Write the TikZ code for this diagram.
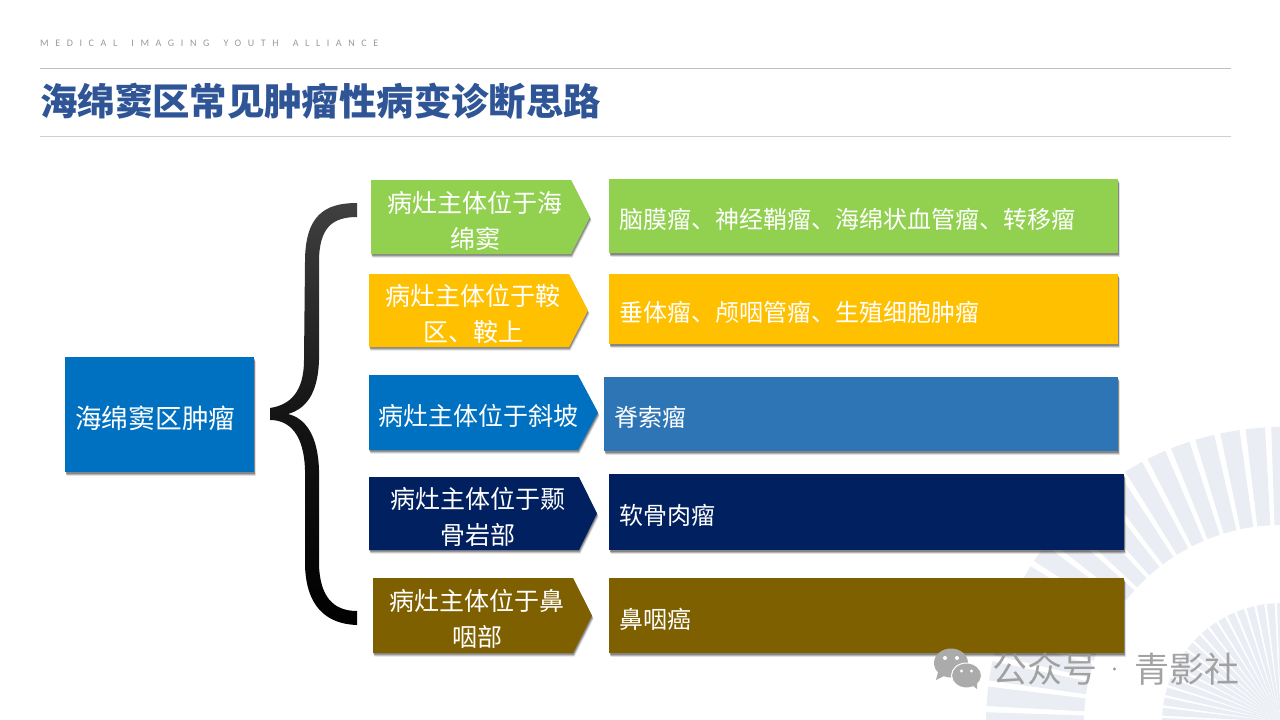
\documentclass[tikz,border=0pt]{standalone}
\usepackage{fontspec}
\setmainfont{Noto Sans CJK SC}
\newfontfamily\headfont[LetterSpace=66,WordSpace=1.6]{Carlito}
\usetikzlibrary{shadows}
\definecolor{fanblue}{HTML}{EAEDF3}
\definecolor{ruleline}{HTML}{BFBFBF}
\definecolor{titleblue}{HTML}{2F5597}
\definecolor{leafgreen}{HTML}{92D050}
\definecolor{amber}{HTML}{FFC000}
\definecolor{seablue}{HTML}{0070C0}
\definecolor{midblue}{HTML}{2E75B6}
\definecolor{navy}{HTML}{002060}
\definecolor{olivebrown}{HTML}{7F6000}
\definecolor{wmgray}{HTML}{ABABAB}
\tikzset{
	boxshadow/.style={
		general shadow={shadow xshift=1.5pt, shadow yshift=-3.5pt, fill=black, opacity=0.12},
		general shadow={shadow xshift=1pt, shadow yshift=-2.5pt, fill=black, opacity=0.2},
		general shadow={shadow xshift=0.5pt, shadow yshift=-1.5pt, fill=black, opacity=0.25}},
	plainbox/.style={rectangle, boxshadow, inner xsep=10pt, inner ysep=0pt, text=white, align=left, text height=28pt, text depth=3pt, font=\fontsize{24}{30}\selectfont},
	tagtext/.style={text=white, align=center, inner sep=0pt, font=\fontsize{25}{36}\selectfont},
	fanray/.style={fill=fanblue},
	wmtext/.style={anchor=west, inner sep=0pt, text=black!40, text opacity=0.9, font=\fontsize{35}{36}\selectfont},
}
% tag shape: [colour](name)(left,body end,tip,top,bottom,text centre){text}
\def\tagbox[#1](#2)(#3,#4,#5,#6,#7,#8)#9{
	\fill[#1, boxshadow] (#3, #6) -- (#4, #6) -- (#5, {(#6+#7)/2}) -- (#4, #7) -- (#3, #7) -- cycle;
	\node[tagtext] (#2) at (#8, {(#6+#7)/2+3.5}) {#9};
}
% flat box: [colour](name)(left,top,right,bottom){text}
\def\flatbox[#1](#2)(#3,#4,#5,#6)#7{
	\node[plainbox, fill=#1, anchor=north west, text width={#5-#3-20pt}, minimum height={#6-#4}, at={(#3, #4)}] (#2) {#7};
}
\begin{document}
\begin{tikzpicture}[x=1pt, y=-1pt]
		\useasboundingbox (0, 0) rectangle (1280, 720);
		
		%%%%% FANS %%%%%
		\begin{scope}[shift={(1281, 722)}]
			\foreach \a in {180,185,...,270} {
				\fill[fanray] (\a-1.9:295) -- (\a+1.9:295) -- (\a+1.9:197) -- (\a-1.9:197) -- cycle;
				\fill[fanray] (\a-1.9:119) -- (\a+1.9:119) -- (0, 0) -- cycle;
			}
		\end{scope}
		
		%%%%% HEADER %%%%%
		\node[anchor=west, inner sep=0pt, text=black!40, font=\fontsize{10}{12}\selectfont\headfont] (headline) at (40, 43.5) {MEDICAL IMAGING YOUTH ALLIANCE};
		\draw[ruleline, line width=1pt] (40, 68.5) -- (1231, 68.5);
		\node[anchor=west, inner sep=0pt, text=titleblue, font=\fontsize{37.4}{40}\selectfont\bfseries] (pagetitle) at (40, 101) {海绵窦区常见肿瘤性病变诊断思路};
		\draw[ruleline!75, line width=1pt] (40, 136) -- (1231, 136);
		
		%%%%% LEFT BOX AND BRACE %%%%%
		\node[plainbox, fill=seablue, anchor=north west, text width=169pt, minimum height=115pt, text height=30pt, font=\fontsize{26.7}{30}\selectfont] (rootbox) at (65, 357) {海绵窦区肿瘤};
		
		\shade[top color=black!75, bottom color=black, middle color=black!92]
			(357, 203) .. controls (325, 203) and (305, 215) .. (305, 262)
			-- (304, 360) .. controls (304, 392) and (290, 405) .. (270, 408)
			-- (270, 420) .. controls (290, 420) and (304, 435) .. (305, 470)
			-- (305, 565) .. controls (306, 605) and (325, 624) .. (357, 625)
			-- (357, 611) .. controls (332, 611) and (320, 595) .. (319, 565)
			-- (319, 470) .. controls (318, 435) and (305, 418) .. (288, 414)
			.. controls (305, 409) and (318, 395) .. (319, 360)
			-- (319, 262) .. controls (319, 228) and (332, 217) .. (357, 217) -- cycle;
		
		%%%%% MIDDLE TAGS %%%%%
		\tagbox[leafgreen](tagsinus)(371, 571, 590, 180, 254, 475){病灶主体位于海\\绵窦}
		\tagbox[amber](tagsella)(369, 569, 588, 274, 347, 473){病灶主体位于鞍\\区、鞍上}
		\tagbox[seablue](tagclivus)(369, 578, 598, 375, 450, 478){病灶主体位于斜坡}
		\tagbox[navy](tagpetrous)(369, 579, 597, 477, 550, 478){病灶主体位于颞\\骨岩部}
		\tagbox[olivebrown](tagnaso)(373, 573, 592, 578, 653, 477){病灶主体位于鼻\\咽部}
		
		%%%%% RIGHT BOXES %%%%%
		\flatbox[leafgreen](listsinus)(609, 179, 1118, 253){脑膜瘤、神经鞘瘤、海绵状血管瘤、转移瘤}
		\flatbox[amber](listsella)(609, 274, 1118, 344){垂体瘤、颅咽管瘤、生殖细胞肿瘤}
		\flatbox[midblue](listclivus)(604, 377, 1118, 451){脊索瘤}
		\flatbox[navy](listpetrous)(609, 474, 1124, 550){软骨肉瘤}
		\flatbox[olivebrown](listnaso)(609, 578, 1124, 653){鼻咽癌}
		
		%%%%% WATERMARK %%%%%
		\fill[wmgray] (951, 663) ellipse (17 and 14.5);
		\fill[wmgray] (938, 672) -- (936, 680) -- (946, 675) -- cycle;
		\fill[wmgray, draw=white, line width=1pt] (966.5, 675.5) ellipse (15 and 12.5);
		\fill[wmgray] (972, 685) -- (977, 689) -- (977, 683) -- cycle;
		\foreach \x in {945, 957} \fill[white] (\x, 658) circle (2);
		\foreach \x in {961.5, 971.5} \fill[white] (\x, 671) circle (1.7);
		\node[wmtext] (wmark) at (992, 669) {公众号};
		\fill[black!40] (1114.5, 669) circle (1.7);
		\node[wmtext] (wmname) at (1134, 669) {青影社};
\end{tikzpicture}
\end{document}
